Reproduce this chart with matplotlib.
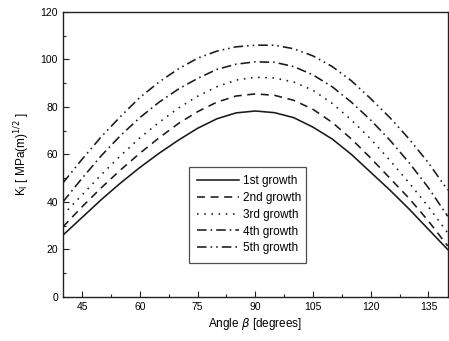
import matplotlib
matplotlib.use("Agg")
import matplotlib.pyplot as plt
from matplotlib.ticker import MultipleLocator

plt.rcParams['font.family'] = ['Liberation Sans', 'DejaVu Sans']

angle = [40, 45, 50, 55, 60, 65, 70, 75, 80, 85, 90, 95, 100, 105, 110, 115, 120, 125, 130, 135, 140]
g1 = [26, 33.5, 41, 48, 54.5, 60.5, 66, 71, 75, 77.5, 78.3, 77.6, 75.5, 71.5, 66.5, 60, 52.5, 45, 37, 28.5, 20]
g2 = [29.5, 38, 46, 53.5, 60.5, 67, 73, 78, 82, 84.6, 85.5, 84.9, 82.8, 79, 73.5, 66.5, 58.5, 50, 41.5, 32, 21.5]
g3 = [34.5, 43, 51.5, 59.5, 67, 73.5, 79.5, 84.5, 88.5, 91.3, 92.5, 92.2, 90.5, 87, 81.5, 74.5, 66.5, 57.5, 48, 38, 27]
g4 = [40, 50, 59.5, 68, 75.5, 82, 87.5, 92, 95.8, 98, 99, 98.8, 97, 93.5, 88.5, 82, 74.5, 66, 56.5, 46, 34]
g5 = [48, 58, 67.5, 76, 84, 90.5, 96, 100.5, 103.5, 105.3, 106, 106, 104.5, 101.5, 97, 91, 83.5, 75.5, 66.5, 56.5, 45]
labels = ['1st growth', '2nd growth', '3rd growth', '4th growth', '5th growth']

fig = plt.figure(figsize=(4.49, 3.41), dpi=100)
ax = fig.add_axes([0.140, 0.129, 0.857, 0.836])

styles = [
    '-',
    (0, (5, 3.5)),
    (0, (1, 3.5)),
    (0, (6, 2.5, 1, 2.5)),
    (0, (6, 2.5, 1, 2.5, 1, 2.5)),
]
for ys, ls, lab in zip([g1, g2, g3, g4, g5], styles, labels):
    ax.plot(angle, ys, linestyle=ls, color='#1a1a1a', lw=1.15, label=lab)

ax.set_xlim(40, 140)
ax.set_ylim(0, 120)
ax.set_xticks([45, 60, 75, 90, 105, 120, 135])
ax.xaxis.set_minor_locator(MultipleLocator(7.5))
ax.set_yticks([0, 20, 40, 60, 80, 100, 120])
ax.yaxis.set_minor_locator(MultipleLocator(10))
ax.tick_params(which='both', direction='in', labelsize=7.5, width=0.8, color='#222222')
ax.tick_params(which='major', length=4)
ax.tick_params(which='minor', length=2)
for s in ax.spines.values():
    s.set_linewidth(1.0)
    s.set_color('#222222')

ax.set_xlabel(r'Angle $\beta$ [degrees]', fontsize=8.5, labelpad=3)
ax.set_ylabel(r'K$_{\rm I}$ [ MPa(m)$^{1/2}$ ]', fontsize=8.5, labelpad=6)

leg = ax.legend(loc='lower left', bbox_to_anchor=(0.3125, 0.10, 0.336, 0.34), mode='expand',
                fontsize=8.5, frameon=True, fancybox=False, edgecolor='#222222',
                handlelength=3.5, handletextpad=0.4, borderpad=0.7, labelspacing=0.4)
leg.get_frame().set_linewidth(0.9)

fig.savefig('out.png', dpi=100)
